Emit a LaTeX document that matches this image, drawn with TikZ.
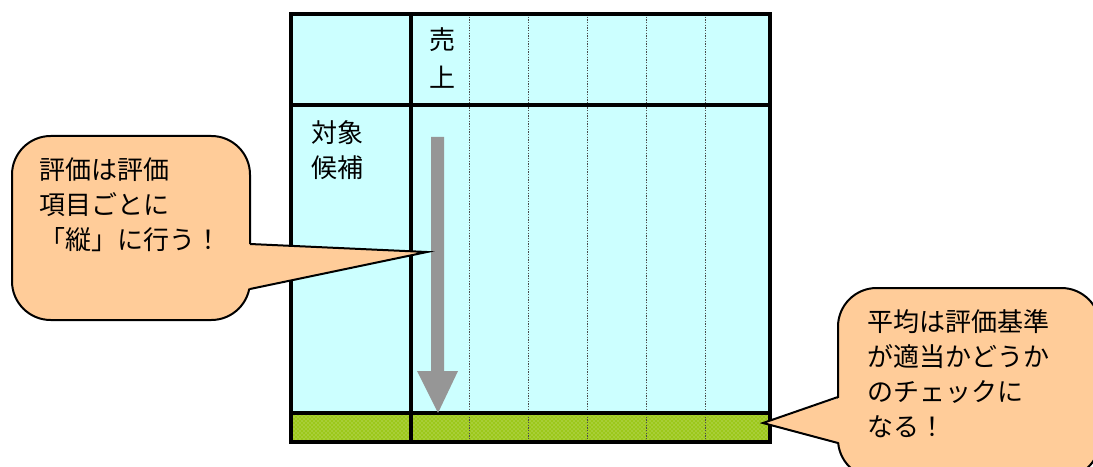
\documentclass[tikz,border=0pt]{standalone}
\usepackage{fontspec}
\newfontfamily\jp{Noto Sans CJK JP}
\usetikzlibrary{patterns}
\definecolor{cellcyan}{HTML}{CCFFFF}
\definecolor{avggreen}{HTML}{9CC81A}
\definecolor{calloutfill}{HTML}{FFCC99}
\definecolor{arrowgray}{HTML}{969696}
\begin{document}
\begin{tikzpicture}[x=0.75pt,y=-0.75pt,
  thickrule/.style={line width=2.3pt,black},
  dotrule/.style={line width=0.5pt,black!70,dash pattern=on 1pt off 1pt},
  jptext/.style={font=\jp\fontsize{19.5}{26.25}\selectfont,inner sep=0pt},
  calloutbox/.style={draw=black,fill=calloutfill,line width=1.5pt,rounded corners=29pt},
  calloutedge/.style={draw=black,line width=1.5pt,line join=miter},
]
\useasboundingbox (0,0) rectangle (1093,467);
\clip (0,0) rectangle (1093,467);
% table fills
\fill[cellcyan] (291,14) rectangle (770,413);
\fill[avggreen] (291,413) rectangle (770,442);
\fill[pattern=crosshatch dots,pattern color=white!55!avggreen] (291,413) rectangle (770,442);
% dotted column lines
\foreach \cx in {469,528,587,646,705}{
  \draw[dotrule] (\cx,14) -- (\cx,442);
}
% thick rules
\draw[thickrule] (291,14) rectangle (770,442);
\draw[thickrule] (411,14) -- (411,442);
\draw[thickrule] (291,105) -- (770,105);
\draw[thickrule] (291,413) -- (770,413);
% table texts
\node[jptext] (uri) at (442,40) {売};
\node[jptext] (age) at (442,77) {上};
\node[jptext] (taisho) at (337,133) {対象};
\node[jptext] (kouho) at (337,168) {候補};
% big gray arrow
\coordinate (arrtop) at (437.5,137);
\coordinate (arrtip) at (438,413);
\fill[arrowgray] (431,137) -- (444,137) -- (444,371) -- (458,371) -- (arrtip) -- (417,371) -- (431,371) -- cycle;
% callout 1
\coordinate (tip1) at (427,252);
\draw[calloutbox] (12,136) rectangle (250,320);
\fill[calloutfill] (246,244) -- (tip1) -- (246,289) -- cycle;
\draw[calloutedge] (250,244) -- (tip1) -- (250,289);
\node[jptext,anchor=north west,align=left] (c1text) at (39,157) {評価は評価\\項目ごとに\\「縦」に行う！};
% callout 2
\coordinate (tip2) at (763,423);
\draw[calloutbox] (838,288) rectangle (1100,478);
\fill[calloutfill] (842,397) -- (tip2) -- (842,443) -- cycle;
\draw[calloutedge] (838,397) -- (tip2) -- (838,443);
\node[jptext,anchor=north west,align=left] (c2text) at (867,309) {平均は評価基準\\が適当かどうか\\のチェックに\\なる！};
\end{tikzpicture}
\end{document}
